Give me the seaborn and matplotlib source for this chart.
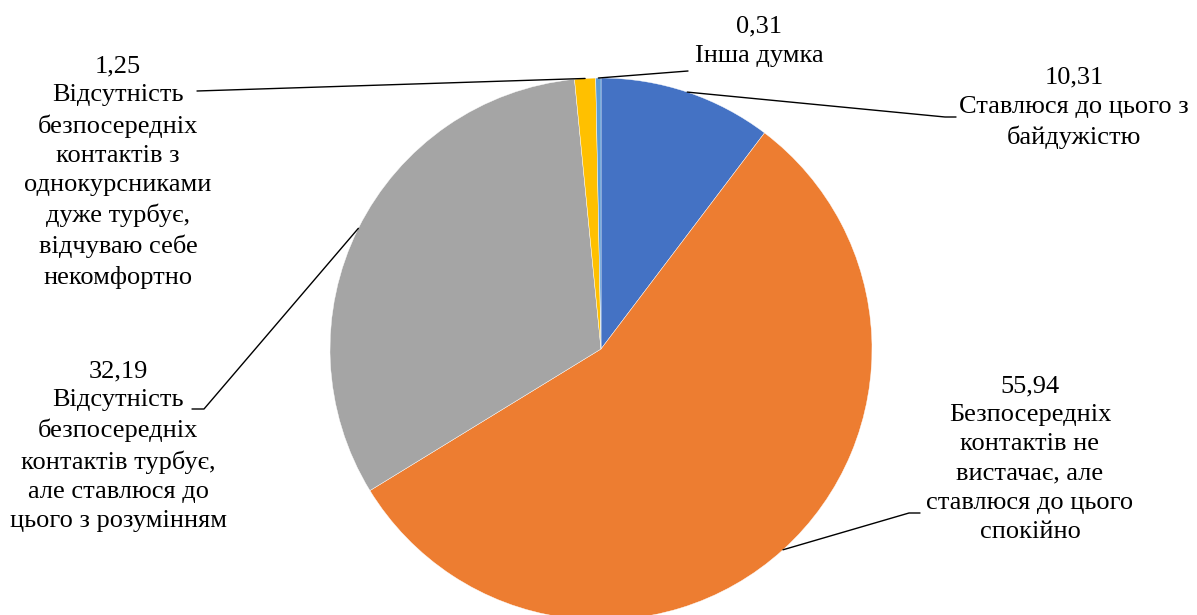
import numpy as np
import matplotlib
matplotlib.use("Agg")
import matplotlib.pyplot as plt
import seaborn as sns

values = [10.31, 55.94, 32.19, 1.25, 0.31]
value_labels = ["10,31", "55,94", "32,19", "1,25", "0,31"]
categories = [
    "Ставлюся до цього з\nбайдужістю",
    "Безпосередніх\nконтактів не\nвистачає, але\nставлюся до цього\nспокійно",
    "Відсутність\nбезпосередніх\nконтактів турбує,\nале ставлюся до\nцього з розумінням",
    "Відсутність\nбезпосередніх\nконтактів з\nоднокурсниками\nдуже турбує,\nвідчуваю себе\nнекомфортно",
    "Інша думка",
]
colors = ["#4472C4", "#ED7D31", "#A5A5A5", "#FFC000", "#5B9BD5"]

sns.set_theme(style="white")
plt.rcParams["font.family"] = ["Liberation Serif", "DejaVu Serif"]

W, H = 1197, 615
fig = plt.figure(figsize=(W / 100, H / 100), dpi=100)
ax = fig.add_axes([0, 0, 1, 1])

cx, cy, r = 601, H - 349, 271
wedges, _ = ax.pie(values, colors=colors, startangle=90, counterclock=False,
                   center=(cx, cy), radius=r, frame=True,
                   wedgeprops=dict(edgecolor="white", linewidth=0.3))
ax.set_xlim(0, W)
ax.set_ylim(0, H)
ax.set_aspect("equal")
ax.axis("off")

# label block centres (pixel coords, y from top) and leader line elbows
label_pos = [(1074, 108), (1030, 459), (118, 446), (118, 172), (759, 41)]
elbows = [[(945, 117), (956, 117)],
          [(909, 513), (920, 513)],
          [(204, 409), (192, 409)],
          [(197, 91)],
          [(688, 71)]]

for w, vl, cat, (lx, ly), elb in zip(wedges, value_labels, categories, label_pos, elbows):
    ang = np.deg2rad((w.theta1 + w.theta2) / 2)
    ax_pt = (cx + r * np.cos(ang), cy + r * np.sin(ang))
    pts = [ax_pt] + [(x, H - y) for x, y in elb]
    ax.plot([p[0] for p in pts], [p[1] for p in pts], color="black", lw=1)
    ax.text(lx, H - ly, vl + "\n" + cat, ha="center", va="center",
            fontsize=19, linespacing=1.42, color="black")

fig.savefig("out.png", dpi=100)
